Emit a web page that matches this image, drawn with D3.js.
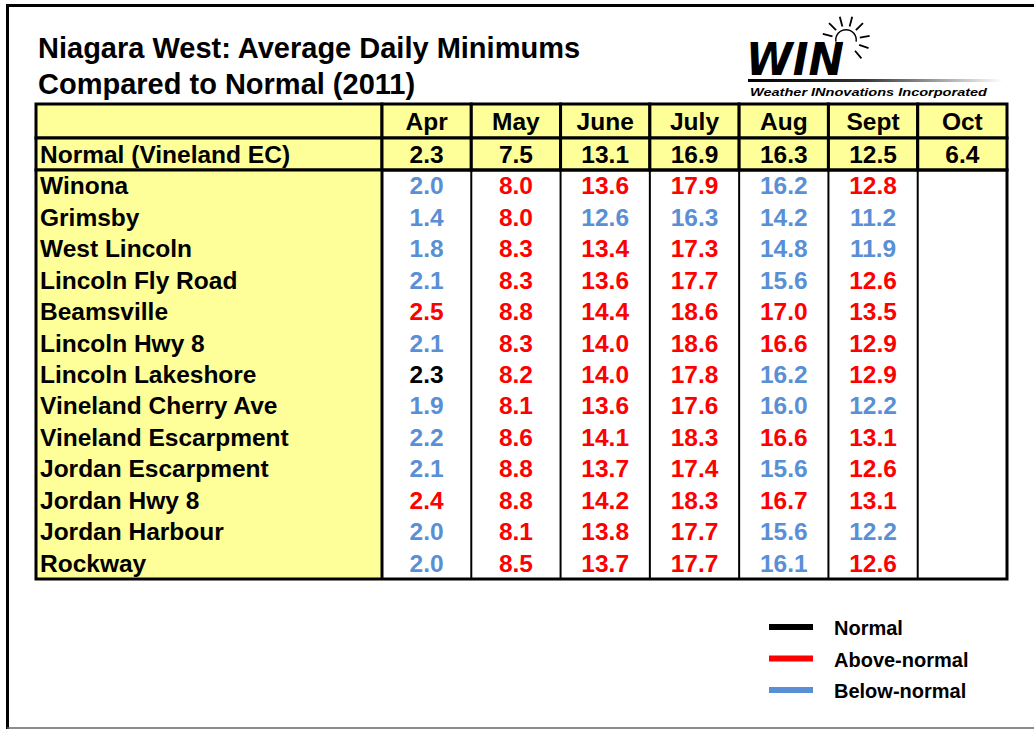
<!DOCTYPE html>
<html>
<head>
<meta charset="utf-8">
<script src="https://cdn.jsdelivr.net/npm/d3@7"></script>
<style>
  body { margin: 0; background: #fff; }
  svg text { font-family: "Liberation Sans", Arial, Helvetica, sans-serif; font-weight: bold; }
</style>
</head>
<body>
<svg id="chart" width="1034" height="730"></svg>
<script>
// table data
var months = ["Apr", "May", "June", "July", "Aug", "Sept", "Oct"];
var normal = [2.3, 7.5, 13.1, 16.9, 16.3, 12.5, 6.4];
var stations = ["Winona", "Grimsby", "West Lincoln", "Lincoln Fly Road", "Beamsville",
    "Lincoln Hwy 8", "Lincoln Lakeshore", "Vineland Cherry Ave", "Vineland Escarpment",
    "Jordan Escarpment", "Jordan Hwy 8", "Jordan Harbour", "Rockway"];
var apr  = [2.0, 1.4, 1.8, 2.1, 2.5, 2.1, 2.3, 1.9, 2.2, 2.1, 2.4, 2.0, 2.0];
var may  = [8.0, 8.0, 8.3, 8.3, 8.8, 8.3, 8.2, 8.1, 8.6, 8.8, 8.8, 8.1, 8.5];
var june = [13.6, 12.6, 13.4, 13.6, 14.4, 14.0, 14.0, 13.6, 14.1, 13.7, 14.2, 13.8, 13.7];
var july = [17.9, 16.3, 17.3, 17.7, 18.6, 18.6, 17.8, 17.6, 18.3, 17.4, 18.3, 17.7, 17.7];
var aug  = [16.2, 14.2, 14.8, 15.6, 17.0, 16.6, 16.2, 16.0, 16.6, 15.6, 16.7, 15.6, 16.1];
var sept = [12.8, 11.2, 11.9, 12.6, 13.5, 12.9, 12.9, 12.2, 13.1, 12.6, 13.1, 12.2, 12.6];
var oct  = [null, null, null, null, null, null, null, null, null, null, null, null, null];
var legendItems = ["Normal", "Above-normal", "Below-normal"];

var series = [apr, may, june, july, aug, sept, oct];
var red = "#ff0000", blue = "#5a8fd6", yellow = "#ffff99";
var fs = 24.5;

var svg = d3.select("#chart");

// page frame
svg.append("line").attr("x1", 7).attr("x2", 1034).attr("y1", 5.5).attr("y2", 5.5)
    .attr("stroke", "#000").attr("stroke-width", 3);
svg.append("line").attr("x1", 7.5).attr("x2", 7.5).attr("y1", 4).attr("y2", 729)
    .attr("stroke", "#000").attr("stroke-width", 3);
svg.append("line").attr("x1", 7).attr("x2", 1034).attr("y1", 728).attr("y2", 728)
    .attr("stroke", "#666").attr("stroke-width", 1.5);

// title
var title = svg.append("text").attr("x", 38).attr("font-size", 29).attr("fill", "#000");
title.append("tspan").attr("x", 38).attr("y", 58).text("Niagara West: Average Daily Minimums");
title.append("tspan").attr("x", 38).attr("y", 94).text("Compared to Normal (2011)");

// logo
var logo = svg.append("g");
var grad = svg.append("defs").append("linearGradient").attr("id", "fade");
grad.append("stop").attr("offset", "0%").attr("stop-color", "#000");
grad.append("stop").attr("offset", "45%").attr("stop-color", "#333");
grad.append("stop").attr("offset", "100%").attr("stop-color", "#fff");
logo.append("text").attr("x", 746).attr("y", 75)
    .attr("font-size", 44).attr("font-style", "italic")
    .style("font-weight", 900).style("font-family", "'DejaVu Sans', sans-serif")
    .attr("textLength", 98).attr("lengthAdjust", "spacingAndGlyphs")
    .text("WIN");
logo.append("rect").attr("x", 748).attr("y", 79).attr("width", 255).attr("height", 3)
    .attr("fill", "url(#fade)");
logo.append("text").attr("x", 750).attr("y", 96).attr("font-size", 11.5)
    .attr("font-style", "italic")
    .attr("textLength", 237).attr("lengthAdjust", "spacingAndGlyphs")
    .text("Weather INnovations Incorporated");
// sun
var sun = { x: 846, y: 40 };
logo.append("path")
    .attr("d", d3.arc()({ innerRadius: 9.5, outerRadius: 11, startAngle: -Math.PI * 0.55, endAngle: Math.PI * 0.55 }))
    .attr("transform", "translate(" + sun.x + "," + sun.y + ")").attr("fill", "#000");
logo.append("line").attr("x1", sun.x - 4).attr("y1", sun.y + 2).attr("x2", sun.x - 8).attr("y2", sun.y + 18)
    .attr("stroke", "#000").attr("stroke-width", 2);
var rays = [-75, -45, -15, 15, 45, 80, 110, 140];
logo.selectAll(".ray").data(rays).join("line")
    .attr("x1", function (a) { return sun.x + 14 * Math.sin(a * Math.PI / 180); })
    .attr("y1", function (a) { return sun.y - 14 * Math.cos(a * Math.PI / 180); })
    .attr("x2", function (a) { return sun.x + 24 * Math.sin(a * Math.PI / 180); })
    .attr("y2", function (a) { return sun.y - 24 * Math.cos(a * Math.PI / 180); })
    .attr("stroke", "#000").attr("stroke-width", 1.8);

// table scales
var labelLeft = 36, labelRight = 382;
var x = d3.scaleBand().domain(months).range([labelRight, 1007]);
var headerTop = 104, normalTop = 138, dataTop = 170, dataBottom = 579;
var y = d3.scaleBand().domain(stations).range([dataTop, dataBottom]);

// header and normal rows
var headRows = [{ top: headerTop, bottom: normalTop, label: "", cells: months },
                { top: normalTop, bottom: dataTop, label: "Normal (Vineland EC)", cells: normal.map(function (v) { return v.toFixed(1); }) }];
headRows.forEach(function (r) {
    svg.append("rect").attr("x", labelLeft).attr("y", r.top)
        .attr("width", labelRight - labelLeft).attr("height", r.bottom - r.top)
        .attr("fill", yellow).attr("stroke", "#000").attr("stroke-width", 3);
    svg.append("text").attr("x", labelLeft + 4).attr("y", (r.top + r.bottom) / 2 + 8.5)
        .attr("font-size", fs).text(r.label);
    svg.selectAll(null).data(months).join("rect")
        .attr("x", function (m) { return x(m); }).attr("y", r.top)
        .attr("width", x.bandwidth()).attr("height", r.bottom - r.top)
        .attr("fill", yellow).attr("stroke", "#000").attr("stroke-width", 3);
    svg.selectAll(null).data(r.cells).join("text")
        .attr("x", function (d, i) { return x(months[i]) + x.bandwidth() / 2; })
        .attr("y", (r.top + r.bottom) / 2 + 8.5)
        .attr("text-anchor", "middle").attr("font-size", fs).text(function (d) { return d; });
});

// data body
svg.append("rect").attr("x", labelLeft).attr("y", dataTop)
    .attr("width", labelRight - labelLeft).attr("height", dataBottom - dataTop)
    .attr("fill", yellow);
svg.selectAll(".vline").data(months.slice(1)).join("line")
    .attr("x1", function (m) { return x(m); }).attr("x2", function (m) { return x(m); })
    .attr("y1", dataTop).attr("y2", dataBottom)
    .attr("stroke", "#000").attr("stroke-width", 2);
svg.append("rect").attr("x", labelLeft).attr("y", dataTop)
    .attr("width", 1007 - labelLeft).attr("height", dataBottom - dataTop)
    .attr("fill", "none").attr("stroke", "#000").attr("stroke-width", 3);
svg.append("line").attr("x1", labelRight).attr("x2", labelRight)
    .attr("y1", dataTop).attr("y2", dataBottom)
    .attr("stroke", "#000").attr("stroke-width", 3);

svg.selectAll(".station").data(stations).join("text")
    .attr("x", labelLeft + 4)
    .attr("y", function (s) { return y(s) + y.bandwidth() / 2 + 8.5; })
    .attr("font-size", fs).text(function (s) { return s; });

series.forEach(function (vals, mi) {
    svg.selectAll(null).data(vals.filter(function (v) { return v !== null; })).join("text")
        .attr("x", x(months[mi]) + x.bandwidth() / 2)
        .attr("y", function (v, i) { return y(stations[i]) + y.bandwidth() / 2 + 8.5; })
        .attr("text-anchor", "middle").attr("font-size", fs)
        .attr("fill", function (v) { return v > normal[mi] ? red : (v < normal[mi] ? blue : "#000"); })
        .text(function (v) { return v.toFixed(1); });
});

// legend
var legendColors = ["#000", red, blue];
var ly = d3.scalePoint().domain(legendItems).range([627, 690]);
svg.selectAll(".lg-line").data(legendItems).join("line")
    .attr("x1", 769).attr("x2", 813)
    .attr("y1", function (d) { return ly(d); }).attr("y2", function (d) { return ly(d); })
    .attr("stroke", function (d, i) { return legendColors[i]; }).attr("stroke-width", 6);
svg.selectAll(".lg-text").data(legendItems).join("text")
    .attr("x", 834).attr("y", function (d) { return ly(d) + 8; })
    .attr("font-size", 20).text(function (d) { return d; });
</script>
</body>
</html>
